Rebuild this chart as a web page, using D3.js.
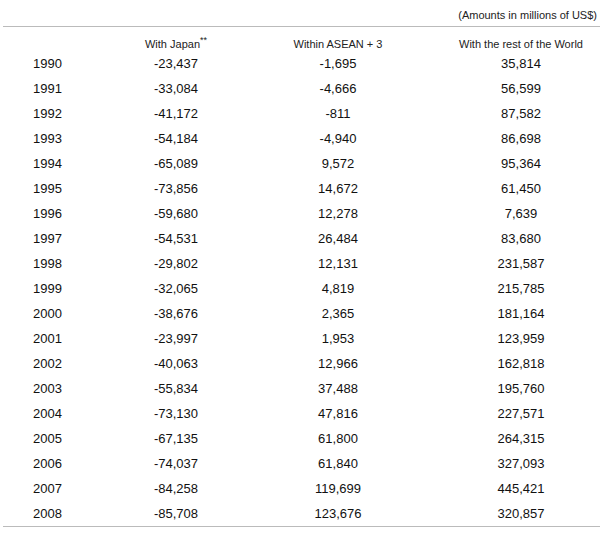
<html>
<head>
<meta charset="utf-8">
<script src="https://cdn.jsdelivr.net/npm/d3@7"></script>
<style>body{margin:0;background:#fff}</style>
</head>
<body>
<svg width="600" height="533"></svg>
<script>
    var years = [1990,1991,1992,1993,1994,1995,1996,1997,1998,1999,2000,2001,2002,2003,2004,2005,2006,2007,2008];
    var withJapan = [-23437,-33084,-41172,-54184,-65089,-73856,-59680,-54531,-29802,-32065,-38676,-23997,-40063,-55834,-73130,-67135,-74037,-84258,-85708];
    var withinAsean = [-1695,-4666,-811,-4940,9572,14672,12278,26484,12131,4819,2365,1953,12966,37488,47816,61800,61840,119699,123676];
    var restWorld = [35814,56599,87582,86698,95364,61450,7639,83680,231587,215785,181164,123959,162818,195760,227571,264315,327093,445421,320857];
    var headers = ["With Japan", "Within ASEAN + 3", "With the rest of the World"];

    var svg = d3.select("svg");
    var font = "Liberation Sans, Arial, sans-serif";
    var fmt = d3.format(",");

    var y = d3.scaleBand().domain(years).range([51, 526]);
    var colX = [176, 338, 521];

    svg.append("text").attr("x", 597).attr("y", 19).attr("text-anchor", "end")
        .style("font-family", font).style("font-size", "11px").attr("fill", "#222")
        .text("(Amounts in millions of US$)");

    // rules
    [26.5, 526.5].forEach(function(ly) {
        svg.append("line").attr("x1", 3).attr("x2", 600).attr("y1", ly).attr("y2", ly)
            .attr("stroke", "#bbb").attr("stroke-width", 1);
    });

    // column headers
    headers.forEach(function(h, i) {
        var t = svg.append("text").attr("x", colX[i]).attr("y", 48).attr("text-anchor", "middle")
            .style("font-family", font).style("font-size", "11px").attr("fill", "#222").text(h);
        if (i == 0) t.append("tspan").attr("dy", -5).style("font-size", "9px").text("**");
    });

    var rows = svg.selectAll(".row").data(years).enter().append("g").attr("class", "row")
        .attr("transform", function(d) { return "translate(0," + (y(d) + y.bandwidth() / 2 + 4) + ")"; });

    rows.append("text").attr("x", 33).text(function(d) { return d; });
    [withJapan, withinAsean, restWorld].forEach(function(arr, c) {
        rows.append("text").attr("x", colX[c]).attr("text-anchor", "middle")
            .text(function(d, i) { return fmt(arr[i]).replace("−", "-"); });
    });
    rows.selectAll("text").style("font-family", font).style("font-size", "13px").attr("fill", "#111");
</script>
</body>
</html>
